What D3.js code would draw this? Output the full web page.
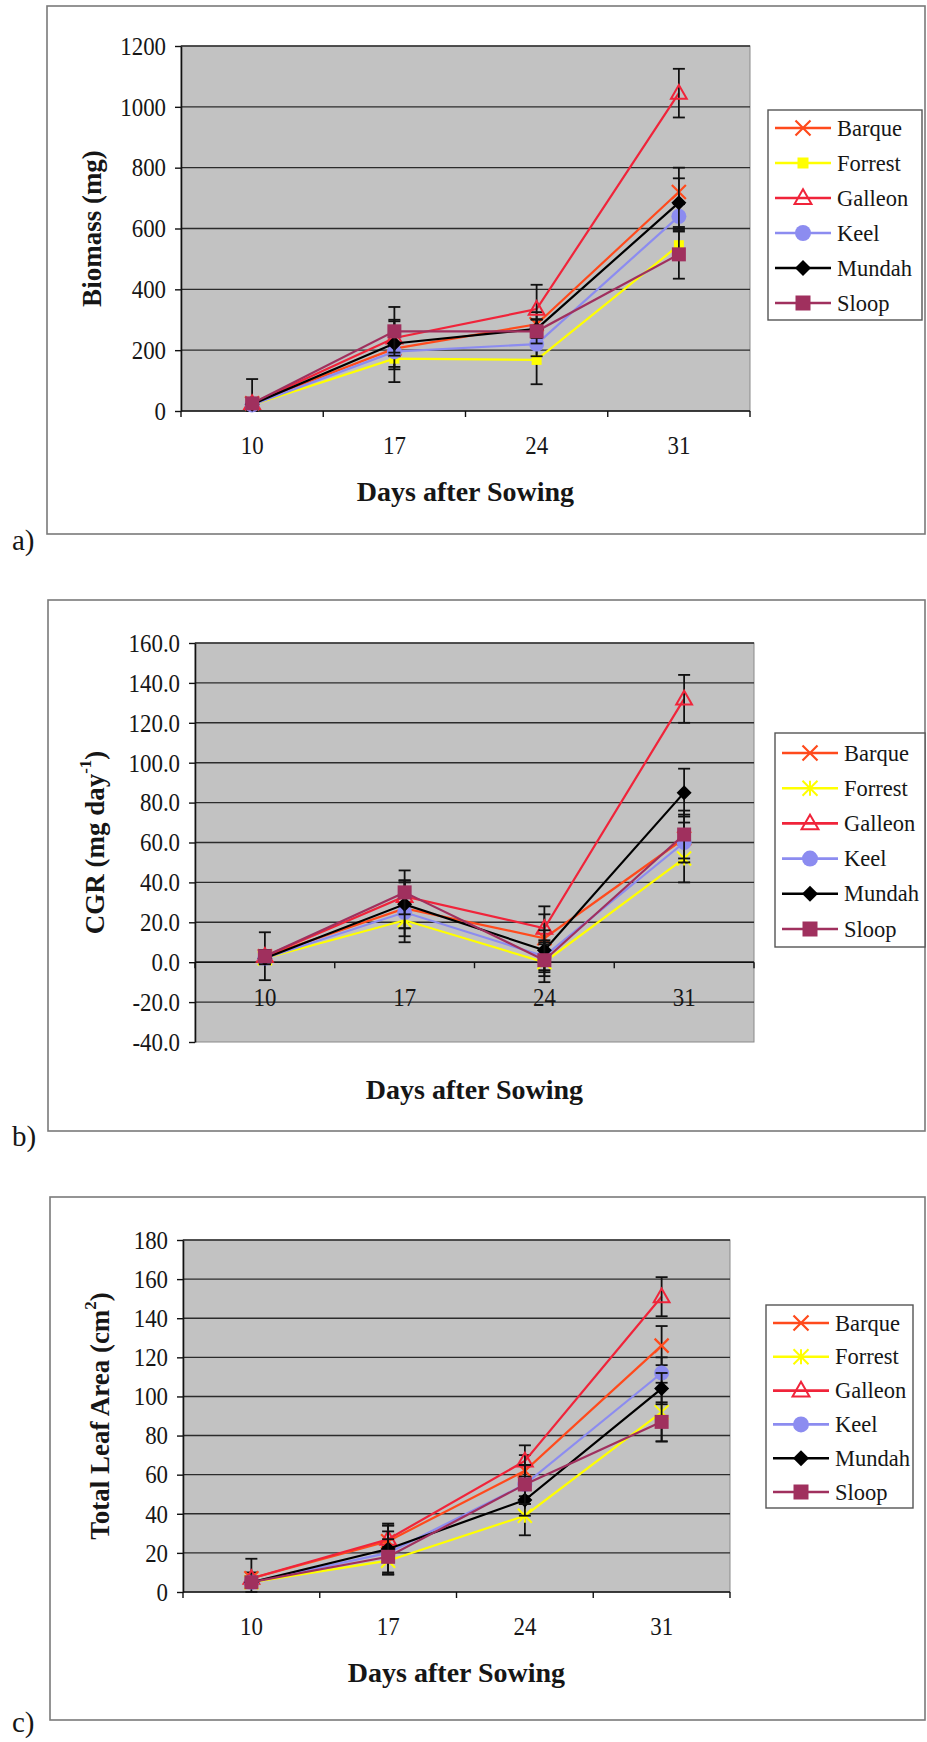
<!DOCTYPE html>
<html>
<head>
<meta charset="UTF-8">
<style>
  body { margin: 0; background: #fff; }
</style>
</head>
<body>
<script src="https://d3js.org/d3.v7.min.js"></script>
<script>

// ---- data (order of rows = varieties) ----
var days = ["10", "17", "24", "31"];
var varieties = ["Barque", "Forrest", "Galleon", "Keel", "Mundah", "Sloop"];
var colours = ["#ff4a1c", "#ffff00", "#f0243a", "#8c8cf0", "#000000", "#a0305e"];
var markersA = ["x", "square", "triangle", "circle", "diamond", "square"];
var markersBC = ["x", "star", "triangle", "circle", "diamond", "square"];

var biomass = [
  [25, 205, 285, 720],
  [20, 172, 168, 545],
  [25, 240, 335, 1045],
  [20, 195, 220, 640],
  [22, 222, 270, 685],
  [25, 262, 262, 515]
];
var biomassErr = [
  [10, 60, 40, 80],
  [8, 35, 80, 45],
  [80, 60, 80, 80],
  [8, 100, 40, 40],
  [8, 30, 30, 80],
  [10, 80, 40, 80]
];
var biomassTicks = [0, 200, 400, 600, 800, 1000, 1200];

var cgr = [
  [3, 27, 12, 62],
  [2, 21, 0, 52],
  [3, 33, 17, 132],
  [2, 25, 3, 60],
  [2, 29, 6, 85],
  [3, 35, 1, 64]
];
var cgrErr = [
  [3, 10, 12, 12],
  [2, 8, 10, 12],
  [12, 8, 11, 12],
  [3, 15, 8, 10],
  [3, 12, 10, 12],
  [3, 11, 8, 12]
];
var cgrTicks = [-40, -20, 0, 20, 40, 60, 80, 100, 120, 140, 160];

var leafArea = [
  [7, 26, 62, 126],
  [5, 16, 39, 92],
  [7, 27, 67, 151],
  [5, 20, 55, 112],
  [5, 22, 47, 104],
  [5, 18, 55, 87]
];
var leafAreaErr = [
  [3, 8, 8, 10],
  [2, 7, 10, 15],
  [10, 8, 8, 10],
  [2, 11, 10, 8],
  [2, 12, 8, 8],
  [2, 9, 10, 10]
];
var leafTicks = [0, 20, 40, 60, 80, 100, 120, 140, 160, 180];

// ---- page ----
var W = 927, H = 1742;
var FONT = "Liberation Serif";
var svg = d3.select("body").append("svg")
    .attr("width", W).attr("height", H)
    .style("font-family", FONT);

// marker symbols
function marker(g, type, col, s) {
  if (type === "x") {
    g.append("path").attr("d", "M" + (-s) + "," + (-s) + "L" + s + "," + s + "M" + (-s) + "," + s + "L" + s + "," + (-s))
      .attr("stroke", col).attr("stroke-width", 2.2).attr("fill", "none");
  } else if (type === "star") {
    g.append("path").attr("d", "M" + (-s) + "," + (-s) + "L" + s + "," + s + "M" + (-s) + "," + s + "L" + s + "," + (-s) + "M0," + (-s) + "L0," + s)
      .attr("stroke", col).attr("stroke-width", 2).attr("fill", "none");
  } else if (type === "triangle") {
    g.append("path").attr("d", d3.symbol(d3.symbolTriangle, s * s * 2.2)())
      .attr("transform", "translate(0,1)")
      .attr("stroke", col).attr("stroke-width", 2).attr("fill", "none");
  } else if (type === "circle") {
    g.append("circle").attr("r", s + 0.5).attr("fill", col);
  } else if (type === "diamond") {
    g.append("path").attr("d", "M0," + (-s - 0.5) + "L" + (s + 0.5) + ",0L0," + (s + 0.5) + "L" + (-s - 0.5) + ",0Z").attr("fill", col);
  } else if (type === "square") {
    g.append("rect").attr("x", -s).attr("y", -s).attr("width", 2 * s).attr("height", 2 * s).attr("fill", col);
  }
}
function markerSize(type, s, base) {
  return (type === "square" && s === 1) ? base - 2 : base;
}

function txt(sel, size, bold) {
  return sel.style("font-family", FONT).style("font-size", size + "px")
    .style("font-weight", bold ? "bold" : "normal").attr("fill", "#161616");
}

function drawPanel(o) {
  var g = svg.append("g");

  // outer frame
  g.append("rect")
    .attr("x", o.frame[0]).attr("y", o.frame[1])
    .attr("width", o.frame[2] - o.frame[0]).attr("height", o.frame[3] - o.frame[1])
    .attr("fill", "none").attr("stroke", "#7a7a7a").attr("stroke-width", 1.6);

  txt(g.append("text").attr("x", 12).attr("y", o.tag[1])
    .attr("dominant-baseline", "central"), 29).text(o.tag[0]);

  var l = o.plot[0], t = o.plot[1], r = o.plot[2], b = o.plot[3];
  var x = d3.scaleBand().domain(days).range([l, r]);
  var y = d3.scaleLinear().domain([o.ticks[0], o.ticks[o.ticks.length - 1]]).range([b, t]);

  g.append("rect").attr("x", l).attr("y", t).attr("width", r - l).attr("height", b - t)
    .attr("fill", "#c2c2c2").attr("stroke", "#8a8a8a").attr("stroke-width", 1);

  // gridlines
  g.selectAll(".grid").data(o.ticks.slice(1)).enter().append("line")
    .attr("x1", l).attr("x2", r)
    .attr("y1", function(d) { return y(d); }).attr("y2", function(d) { return y(d); })
    .attr("stroke", "#2b2b2b").attr("stroke-width", 1.4);

  // y axis (labels are narrow in the original, so squeeze them a little)
  var ya = g.append("g").attr("transform", "translate(" + l + ",0)")
    .call(d3.axisLeft(y).tickValues(o.ticks).tickSize(6).tickSizeOuter(0).tickPadding(11).tickFormat(o.fmt))
    .attr("font-family", FONT);
  ya.select(".domain").attr("stroke", "#111").attr("stroke-width", 1.6);
  ya.selectAll(".tick line").attr("stroke", "#111").attr("stroke-width", 1.4);
  txt(ya.selectAll("text"), 26).attr("transform", "scale(0.88,1)");

  // x axis at zero
  var y0 = y(0);
  g.append("line").attr("x1", l).attr("x2", r).attr("y1", y0).attr("y2", y0)
    .attr("stroke", "#111").attr("stroke-width", 1.6);
  var bounds = days.map(function(d) { return x(d); }).concat([r]);
  g.selectAll(".xt").data(bounds).enter().append("line")
    .attr("x1", function(d) { return d; }).attr("x2", function(d) { return d; })
    .attr("y1", y0).attr("y2", y0 + 6)
    .attr("stroke", "#111").attr("stroke-width", 1.4);
  var xa = g.append("g").attr("transform", "translate(0," + y0 + ")")
    .call(d3.axisBottom(x).tickSize(0).tickPadding(25))
    .attr("font-family", FONT);
  xa.select(".domain").remove();
  txt(xa.selectAll("text"), 26).attr("transform", "scale(0.88,1)");

  // x title
  txt(g.append("text").attr("x", (l + r) / 2).attr("y", o.xTitleY)
    .attr("text-anchor", "middle").attr("dominant-baseline", "central"), 28, true)
    .text("Days after Sowing");

  // y title
  var yt = txt(g.append("text")
    .attr("transform", "translate(" + o.yTitleX + "," + ((t + b) / 2) + ") rotate(-90)")
    .attr("text-anchor", "middle").attr("dominant-baseline", "central"), 27, true);
  yt.append("tspan").text(o.yTitle[0]);
  if (o.yTitle[1]) {
    yt.append("tspan").attr("dy", -10).style("font-size", "17px").text(o.yTitle[1]);
    yt.append("tspan").attr("dy", 10).text(o.yTitle[2]);
  }

  // series
  var cx = function(i) { return x(days[i]) + x.bandwidth() / 2; };
  var line = d3.line().x(function(d, i) { return cx(i); }).y(function(d) { return y(d); });
  var lo = o.ticks[0], hi = o.ticks[o.ticks.length - 1];

  varieties.forEach(function(name, s) {
    var sg = g.append("g");
    sg.append("path").datum(o.values[s]).attr("d", line)
      .attr("fill", "none").attr("stroke", colours[s]).attr("stroke-width", 2.2);
    o.values[s].forEach(function(v, i) {
      var e = o.errors[s][i];
      var yTop = y(Math.min(hi, v + e)), yBot = y(Math.max(lo, v - e));
      var xc = cx(i);
      sg.append("line").attr("x1", xc).attr("x2", xc).attr("y1", yTop).attr("y2", yBot)
        .attr("stroke", "#111").attr("stroke-width", 1.8);
      sg.append("line").attr("x1", xc - 6).attr("x2", xc + 6).attr("y1", yTop).attr("y2", yTop)
        .attr("stroke", "#111").attr("stroke-width", 1.8);
      sg.append("line").attr("x1", xc - 6).attr("x2", xc + 6).attr("y1", yBot).attr("y2", yBot)
        .attr("stroke", "#111").attr("stroke-width", 1.8);
    });
    sg.selectAll(".m").data(o.values[s]).enter().append("g")
      .attr("transform", function(d, i) { return "translate(" + cx(i) + "," + y(d) + ")"; })
      .each(function() {
        marker(d3.select(this), o.markers[s], colours[s], markerSize(o.markers[s], s, 7));
      });
  });

  // legend
  var lg = o.legend;
  g.append("rect").attr("x", lg[0]).attr("y", lg[1]).attr("width", lg[2] - lg[0]).attr("height", lg[3] - lg[1])
    .attr("fill", "#fff").attr("stroke", "#555").attr("stroke-width", 1.4);
  varieties.forEach(function(name, s) {
    var ry = lg[4] + s * lg[5];
    g.append("line").attr("x1", lg[0] + 7).attr("x2", lg[0] + 63).attr("y1", ry).attr("y2", ry)
      .attr("stroke", colours[s]).attr("stroke-width", 2.6);
    var mg = g.append("g").attr("transform", "translate(" + (lg[0] + 35) + "," + ry + ")");
    marker(mg, o.markers[s], colours[s], markerSize(o.markers[s], s, 7.5));
    txt(g.append("text").attr("x", lg[0] + 69).attr("y", ry)
      .attr("dominant-baseline", "central"), 22.5).text(name);
  });
}

var fmt0 = d3.format("d");
var fmt1 = function(d) { return d.toFixed(1); };

drawPanel({
  frame: [47, 6, 925, 534], tag: ["a)", 540],
  plot: [181, 46, 750, 411], ticks: biomassTicks, fmt: fmt0,
  values: biomass, errors: biomassErr, markers: markersA,
  xTitleY: 491, yTitleX: 92, yTitle: ["Biomass (mg)"],
  legend: [768, 110, 922, 320, 128, 35]
});

drawPanel({
  frame: [48, 600, 925, 1131], tag: ["b)", 1136],
  plot: [195, 643, 754, 1042], ticks: cgrTicks, fmt: fmt1,
  values: cgr, errors: cgrErr, markers: markersBC,
  xTitleY: 1089, yTitleX: 95, yTitle: ["CGR (mg day", "-1", ")"],
  legend: [775, 733, 925, 947, 753, 35.2]
});

drawPanel({
  frame: [50, 1197, 925, 1720], tag: ["c)", 1722],
  plot: [183, 1240, 730, 1592], ticks: leafTicks, fmt: fmt0,
  values: leafArea, errors: leafAreaErr, markers: markersBC,
  xTitleY: 1672, yTitleX: 100, yTitle: ["Total Leaf Area (cm", "2", ")"],
  legend: [766, 1305, 913, 1508, 1323, 33.8]
});

</script>
</body>
</html>
